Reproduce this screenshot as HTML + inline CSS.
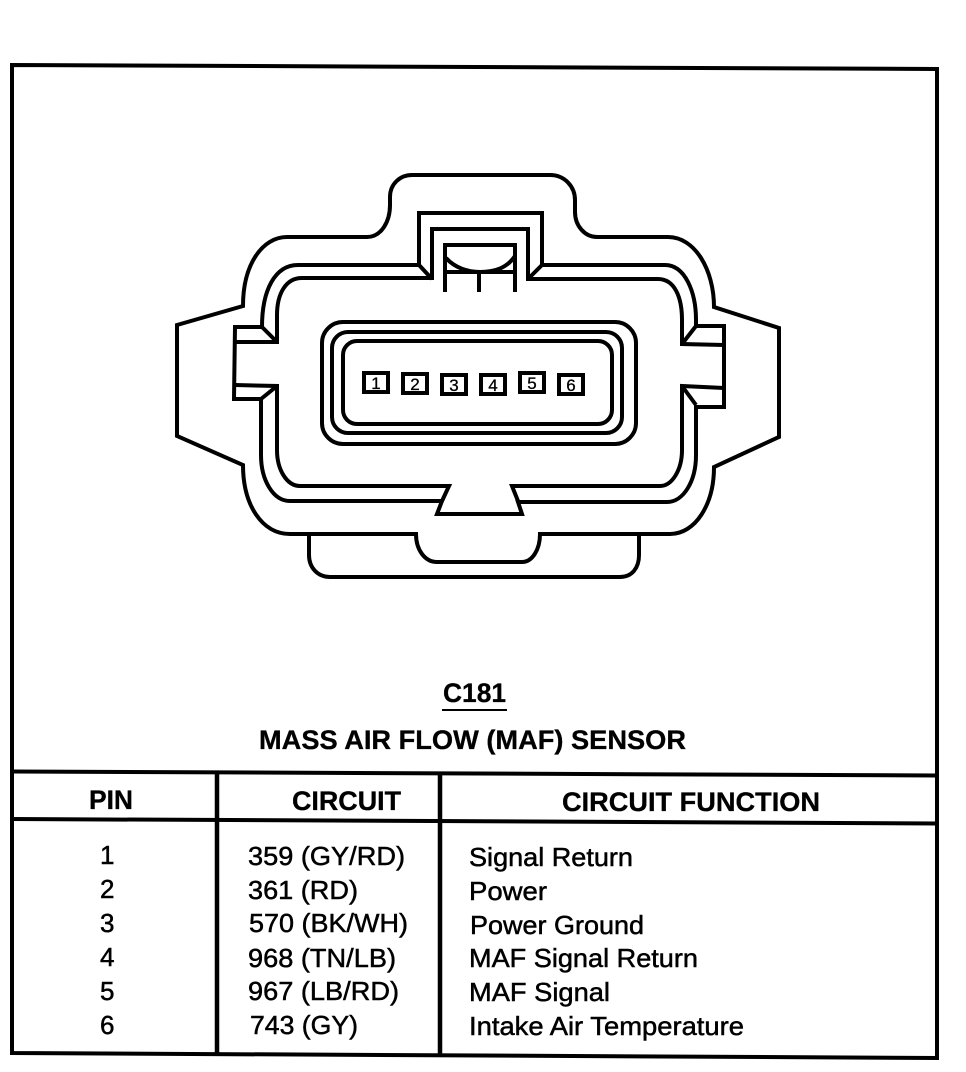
<!DOCTYPE html>
<html>
<head>
<meta charset="utf-8">
<style>
html,body{margin:0;padding:0;background:#fff;width:966px;height:1072px;overflow:hidden}
svg{display:block}
text{font-family:"Liberation Sans",Arial,sans-serif;fill:#000}
.b{font-weight:bold;font-size:27px;stroke:#000;stroke-width:.3}
.r{font-size:26px;stroke:#000;stroke-width:.5}
.p{font-size:17px;text-anchor:middle;stroke:#000;stroke-width:.3}
</style>
</head>
<body>
<svg width="966" height="1072" viewBox="0 0 966 1072" xmlns="http://www.w3.org/2000/svg">
<rect width="966" height="1072" fill="#fff"/>
<!-- frame -->
<g fill="none" stroke="#000" stroke-width="4">
<path d="M12 65 L937 69 L937 1058 L12 1053 Z"/>
<path d="M12 771.500 L937 775.500"/>
<path d="M12 819 L937 823.500"/>
<path d="M217 771 L217 1055" stroke-width="4.500"/>
<path d="M440 773 L440 1056" stroke-width="4.500"/>
</g>
<!-- connector -->
<g fill="none" stroke="#000" stroke-width="4" stroke-linejoin="miter">
<path d="M177 325 L243 306 C243 265 262 237 287 237 L367 237 C381 237 390 222 390 205 L390 197 C390 184 400 175 412 175 L550 175 C565 175 575 187 575 200 L575 212 C575 226 585 237 597 237 L668 237 C695 237 714 270 714 307 L779 328 L779 437 L714 467 C714 505 695 534 670 534 L540 534 C540 550 532 562 522 562 L437 562 C425 562 416 550 416 534 L290 534 C262 534 243 505 243 465 L177 436 Z"/>
<path d="M309 534 L309 555 C309 568 318 577 330 577 L620 577 C632 577 639 568 639 555 L639 534"/>
<path d="M235 327 L262 327 C262 290 275 265 298 265 L419 265 L419 213 L542 213 L542 265 L665 265 C685 265 696 292 696 320 L696 326 L724 326 L724 407 L696 407 L696 455 C696 482 683 502 667 502 L518 502 L522 514 L437 514 L442 501 L290 501 C273 501 261 480 261 455 L261 399 L234 399 Z"/>
<path d="M235 342 L277 342 L277 315 C277 295 285 278 302 278 L432 278 L432 229 L528 229 L528 279 L658 279 C675 279 682 298 682 320 L682 344 L724 345"/>
<path d="M724 388 L682 386 L682 450 C682 470 672 486 660 486 L512 486 L518 501"/>
<path d="M442 501 L449 486 L300 486 C287 486 277 470 277 450 L277 386 L235 385"/>
<path d="M262 327 L277 342 M419 265 L432 279 M542 265 L528 279 M696 326 L682 344 M682 386 L696 405 M277 386 L261 399"/>
<path d="M445 292 L445 245 L515 245 L515 292"/>
<path d="M446 258 C455 268 468 272 480 272 C495 272 507 268 515 256"/>
<path d="M445 272 L515 272 M479 272 L479 292"/>
<rect x="322" y="322" width="314" height="122" rx="21"/>
<rect x="332" y="332" width="290" height="101" rx="16"/>
<rect x="343" y="341" width="269" height="83" rx="14"/>
</g>
<!-- pins -->
<g fill="none" stroke="#000" stroke-width="4">
<rect x="364" y="373" width="24" height="19"/>
<rect x="403" y="374" width="24" height="19"/>
<rect x="442" y="375" width="24" height="19"/>
<rect x="481" y="375" width="24" height="19"/>
<rect x="520" y="373" width="24" height="19"/>
<rect x="559" y="375" width="24" height="19"/>
</g>
<text class="p" x="376" y="389">1</text>
<text class="p" x="415" y="390">2</text>
<text class="p" x="454" y="391">3</text>
<text class="p" x="493" y="391">4</text>
<text class="p" x="532" y="389">5</text>
<text class="p" x="571" y="391">6</text>
<!-- titles -->
<text class="b" x="443" y="702" textLength="63" lengthAdjust="spacingAndGlyphs">C181</text>
<path d="M442 710 L507 710" stroke="#000" stroke-width="2"/>
<text class="b" x="259" y="749" textLength="427" lengthAdjust="spacingAndGlyphs">MASS AIR FLOW (MAF) SENSOR</text>
<text class="b" x="89" y="809" textLength="44" lengthAdjust="spacingAndGlyphs">PIN</text>
<text class="b" x="292" y="810" textLength="109" lengthAdjust="spacingAndGlyphs">CIRCUIT</text>
<text class="b" x="562" y="811" textLength="258" lengthAdjust="spacingAndGlyphs">CIRCUIT FUNCTION</text>
<!-- rows -->
<text class="r" x="100" y="864">1</text>
<text class="r" x="100" y="898">2</text>
<text class="r" x="100" y="932">3</text>
<text class="r" x="100" y="966">4</text>
<text class="r" x="100" y="1000">5</text>
<text class="r" x="100" y="1034">6</text>
<text class="r" x="248" y="865" textLength="157" lengthAdjust="spacingAndGlyphs">359 (GY/RD)</text>
<text class="r" x="248" y="899" textLength="110" lengthAdjust="spacingAndGlyphs">361 (RD)</text>
<text class="r" x="249" y="932" textLength="159" lengthAdjust="spacingAndGlyphs">570 (BK/WH)</text>
<text class="r" x="248" y="967" textLength="148" lengthAdjust="spacingAndGlyphs">968 (TN/LB)</text>
<text class="r" x="248" y="1000" textLength="151" lengthAdjust="spacingAndGlyphs">967 (LB/RD)</text>
<text class="r" x="250" y="1034" textLength="108" lengthAdjust="spacingAndGlyphs">743 (GY)</text>
<text class="r" x="469" y="866" textLength="164" lengthAdjust="spacingAndGlyphs">Signal Return</text>
<text class="r" x="469" y="900" textLength="78" lengthAdjust="spacingAndGlyphs">Power</text>
<text class="r" x="470" y="934" textLength="174" lengthAdjust="spacingAndGlyphs">Power Ground</text>
<text class="r" x="469" y="967" textLength="229" lengthAdjust="spacingAndGlyphs">MAF Signal Return</text>
<text class="r" x="469" y="1001" textLength="141" lengthAdjust="spacingAndGlyphs">MAF Signal</text>
<text class="r" x="469" y="1035" textLength="275" lengthAdjust="spacingAndGlyphs">Intake Air Temperature</text>
</svg>
</body>
</html>
